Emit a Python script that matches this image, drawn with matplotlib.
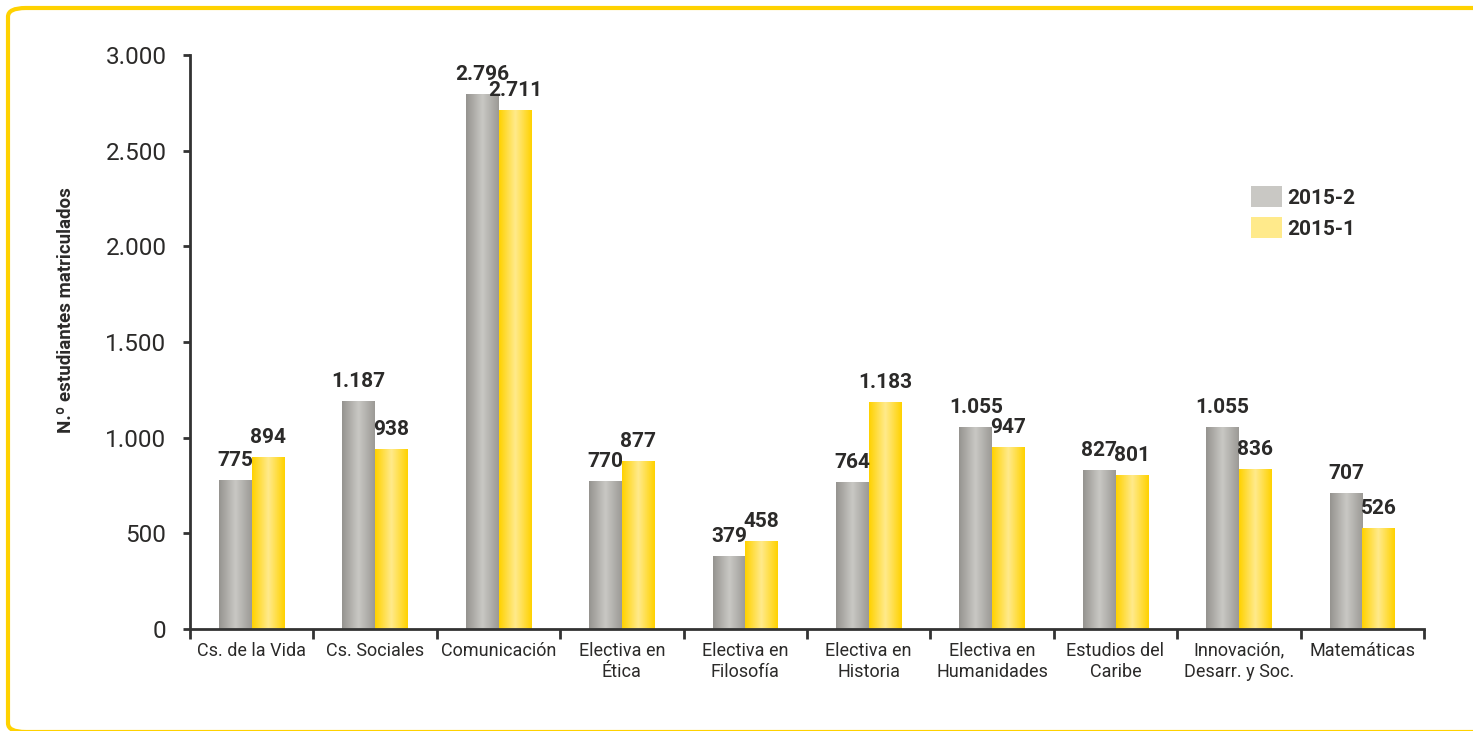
import matplotlib
matplotlib.use("Agg")
import matplotlib.pyplot as plt
import numpy as np
from matplotlib.patches import FancyBboxPatch
from matplotlib.colors import LinearSegmentedColormap

plt.rcParams['font.family'] = ['Roboto', 'DejaVu Sans']

categorias = ["Cs. de la Vida", "Cs. Sociales", "Comunicación", "Electiva en\nÉtica",
              "Electiva en\nFilosofía", "Electiva en\nHistoria", "Electiva en\nHumanidades",
              "Estudios del\nCaribe", "Innovación,\nDesarr. y Soc.", "Matemáticas"]
s2015_2 = [775, 1187, 2796, 770, 379, 764, 1055, 827, 1055, 707]
s2015_1 = [894, 938, 2711, 877, 458, 1183, 947, 801, 836, 526]
yticks = [0, 500, 1000, 1500, 2000, 2500, 3000]
ytick_labels = ["0", "500", "1.000", "1.500", "2.000", "2.500", "3.000"]

txt = "#2b2a29"
cmap_gris = LinearSegmentedColormap.from_list("gris", ["#969490", "#c9c8c4", "#9c9a96"])
cmap_amar = LinearSegmentedColormap.from_list("amar", ["#ffd200", "#ffea8c", "#ffd200"])
grad = np.linspace(0, 1, 64).reshape(1, -1)

fig = plt.figure(figsize=(14.73, 7.31), dpi=100)
fig.patches.append(FancyBboxPatch((8 / 1473, -1 / 731), 1.2, 724 / 731,
                                  boxstyle="round,pad=0,rounding_size=0.012",
                                  transform=fig.transFigure, fill=False,
                                  edgecolor="#ffd200", linewidth=3, figure=fig))
ax = fig.add_axes([190 / 1473, 1 - 629 / 731, (1424 - 190) / 1473, (629 - 55) / 731])

x = np.arange(len(categorias))
w = 0.265
b1 = ax.bar(x - w / 2, s2015_2, w, color="#b0aeaa", label="2015-2")
b2 = ax.bar(x + w / 2, s2015_1, w, color="#ffdd40", label="2015-1")

# relleno degradado sobre cada barra
for bars, cm in [(b1, cmap_gris), (b2, cmap_amar)]:
    for p in bars:
        x0, y0 = p.get_x(), p.get_y()
        ax.imshow(grad, cmap=cm, aspect="auto", zorder=2,
                  extent=[x0, x0 + p.get_width(), y0, y0 + p.get_height()])
    for p in bars:
        v = int(p.get_height())
        ax.text(p.get_x() + p.get_width() / 2, v + 55, f"{v:,}".replace(",", "."),
                ha="center", va="bottom", fontsize=15, fontweight="bold", color=txt)

ax.set_xlim(-0.5, len(categorias) - 0.5)
ax.set_ylim(0, 3000)
ax.set_yticks(yticks)
ax.set_yticklabels(ytick_labels, fontsize=17.5, color=txt)
ax.set_xticks(np.arange(-0.5, len(categorias), 1))
ax.set_xticklabels([])
ax.set_xticks(x, minor=True)
ax.set_xticklabels(categorias, minor=True, fontsize=13, color=txt, linespacing=1.25)
ax.tick_params(axis="x", which="major", direction="out", length=7, width=2, color="#333333")
ax.tick_params(axis="x", which="minor", length=0, pad=9)
ax.tick_params(axis="y", direction="out", length=5, width=2, color="#333333", pad=12)

for s in ["top", "right"]:
    ax.spines[s].set_visible(False)
for s in ["left", "bottom"]:
    ax.spines[s].set_linewidth(2)
    ax.spines[s].set_color("#333333")

ax.set_ylabel("N.º estudiantes matriculados", fontsize=13.5, fontweight="bold", color=txt)
ax.yaxis.set_label_coords(-0.093, 0.556)

leg = ax.legend(loc="upper left", bbox_to_anchor=(0.86, 0.772), frameon=False,
                borderaxespad=0, borderpad=0,
                prop={"size": 15, "weight": "bold"}, handlelength=1.5, handleheight=1.2,
                handletextpad=0.25, labelspacing=0.45)
for t in leg.get_texts():
    t.set_color(txt)
for h, cm in zip(leg.legend_handles, [cmap_gris, cmap_amar]):
    h.set_facecolor(cm(0.5))

fig.savefig("out.png", dpi=100)
